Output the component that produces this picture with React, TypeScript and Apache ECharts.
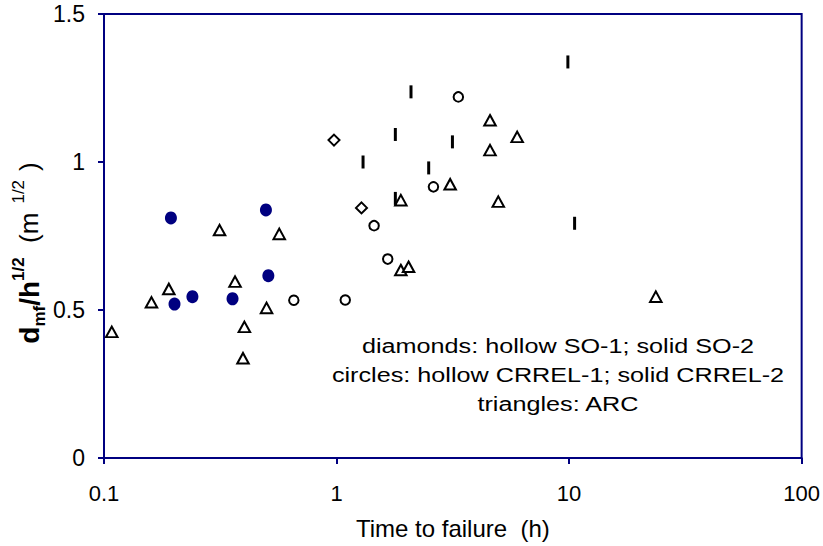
import React, { useEffect, useRef } from "react";
import * as echarts from "echarts";

// Time to failure (h) vs d_mf / h^1/2 (m^1/2)
const crrel2Solid: [number, number][] = [
  [0.194, 0.811], [0.497, 0.838], [0.509, 0.616],
  [0.201, 0.52], [0.24, 0.545], [0.357, 0.538],
];
const crrel1Hollow: [number, number][] = [
  [0.655, 0.533], [1.09, 0.534], [1.45, 0.785],
  [1.66, 0.672], [2.61, 0.916], [3.34, 1.22],
];
const so1Hollow: [number, number][] = [
  [0.975, 1.074], [1.28, 0.845],
];
const so2Solid: [number, number][] = [
  [9.88, 1.338], [2.09, 1.237], [1.79, 1.093], [3.15, 1.068],
  [1.3, 1.0], [2.49, 0.98], [1.79, 0.877], [10.56, 0.793],
];
const arc: [number, number][] = [
  [0.314, 0.77], [0.567, 0.757], [0.366, 0.596], [0.19, 0.571],
  [0.16, 0.526], [0.5, 0.507], [0.108, 0.426], [0.4015, 0.443],
  [0.396, 0.337], [4.57, 1.141], [5.98, 1.085], [4.57, 1.04],
  [3.08, 0.925], [1.89, 0.871], [4.96, 0.866], [1.89, 0.635],
  [2.04, 0.646], [23.6, 0.545],
];
const xTicks = [0.1, 1, 10, 100];
const yTicks = [0, 0.5, 1, 1.5];
const noteLines = [
  "diamonds: hollow SO-1; solid SO-2",
  "circles: hollow CRREL-1; solid CRREL-2",
  "triangles: ARC",
];

const NAVY = "#000080";
const FONT = "'Liberation Sans', Arial, sans-serif";

export default function App() {
  const ref = useRef<HTMLDivElement>(null);

  useEffect(() => {
    if (!ref.current) return;
    const chart = echarts.init(ref.current, undefined, { renderer: "svg" });
    chart.setOption({
      animation: false,
      backgroundColor: "#ffffff",
      grid: {
        left: 104,
        right: 18,
        top: 14,
        bottom: 88,
        show: true,
        borderColor: NAVY,
        borderWidth: 2,
        backgroundColor: "transparent",
      },
      xAxis: {
        type: "log",
        logBase: 10,
        min: xTicks[0],
        max: xTicks[xTicks.length - 1],
        name: "Time to failure  (h)",
        nameLocation: "middle",
        nameGap: 58,
        nameTextStyle: { fontFamily: FONT, fontSize: 24, color: "#000" },
        axisLine: { lineStyle: { color: NAVY, width: 2 } },
        axisTick: { show: true, length: 6, lineStyle: { color: NAVY, width: 2 } },
        minorTick: { show: false },
        splitLine: { show: false },
        axisLabel: {
          fontFamily: FONT,
          fontSize: 22,
          color: "#000",
          margin: 24,
          formatter: (v: number) => String(Number(v.toPrecision(3))),
        },
      },
      yAxis: {
        type: "value",
        min: yTicks[0],
        max: yTicks[yTicks.length - 1],
        interval: 0.5,
        axisLine: { show: true, lineStyle: { color: NAVY, width: 2 } },
        axisTick: { show: true, length: 6, lineStyle: { color: NAVY, width: 2 } },
        splitLine: { show: false },
        axisLabel: {
          fontFamily: FONT,
          fontSize: 23,
          color: "#000",
          margin: 19,
        },
      },
      graphic: [
        {
          type: "text",
          x: 29,
          y: 253,
          rotation: Math.PI / 2,
          style: {
            text: "{b|d}{bs|mf}{b|/h}{bp|1/2}{n|  (m}{np|1/2}{n|)}",
            align: "center",
            verticalAlign: "middle",
            rich: {
              b: { fontFamily: FONT, fontSize: 28, fontWeight: "bold", fill: "#000", lineHeight: 38, verticalAlign: "middle" },
              bs: { fontFamily: FONT, fontSize: 17, fontWeight: "bold", fill: "#000", lineHeight: 17, verticalAlign: "bottom" },
              bp: { fontFamily: FONT, fontSize: 17, fontWeight: "bold", fill: "#000", lineHeight: 17, verticalAlign: "top" },
              n: { fontFamily: FONT, fontSize: 26, fill: "#000", lineHeight: 38, verticalAlign: "middle" },
              np: { fontFamily: FONT, fontSize: 17, fill: "#000", lineHeight: 17, verticalAlign: "top", padding: [0, 9, 0, 9] },
            },
          },
        },
        {
          type: "text",
          x: 558,
          y: 375,
          scaleX: 1.2,
          style: {
            text: noteLines.join("\n"),
            align: "center",
            verticalAlign: "middle",
            fontFamily: FONT,
            fontSize: 21,
            lineHeight: 29,
            fill: "#000",
          },
        },
      ],
      series: [
        {
          name: "ARC",
          type: "scatter",
          data: arc,
          symbol: "triangle",
          symbolSize: [11.5, 10.5],
          itemStyle: { color: "#ffffff", borderColor: "#000", borderWidth: 2, opacity: 1 },
        },
        {
          name: "CRREL-1",
          type: "scatter",
          data: crrel1Hollow,
          symbol: "circle",
          symbolSize: 9.5,
          itemStyle: { color: "#ffffff", borderColor: "#000", borderWidth: 2, opacity: 1 },
        },
        {
          name: "SO-1",
          type: "scatter",
          data: so1Hollow,
          symbol: "diamond",
          symbolSize: 11,
          itemStyle: { color: "#ffffff", borderColor: "#000", borderWidth: 2, opacity: 1 },
        },
        {
          name: "SO-2",
          type: "scatter",
          data: so2Solid,
          symbol: "rect",
          symbolSize: [3, 13],
          itemStyle: { color: "#000", opacity: 1 },
        },
        {
          name: "CRREL-2",
          type: "scatter",
          data: crrel2Solid,
          symbol: "circle",
          symbolSize: [12, 13],
          itemStyle: { color: NAVY, opacity: 1 },
        },
      ],
    });
    return () => chart.dispose();
  }, []);

  return <div ref={ref} style={{ width: 823, height: 546, position: "absolute", left: 0, top: 0 }} />;
}
